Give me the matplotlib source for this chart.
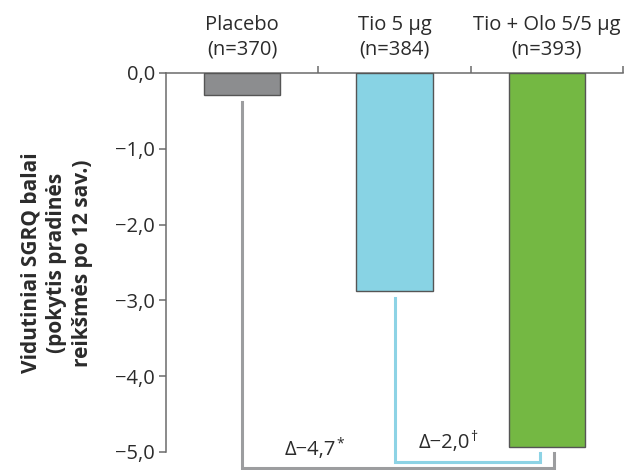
import matplotlib
matplotlib.use("Agg")
import matplotlib.pyplot as plt

plt.rcParams['font.family'] = ['Open Sans', 'DejaVu Sans']

categories = ["Placebo\n(n=370)", "Tio 5 μg\n(n=384)", "Tio + Olo 5/5 μg\n(n=393)"]
values = [-0.29, -2.88, -4.93]
colors = ["#8c8d8f", "#88d3e4", "#74b843"]
yticks = [0.0, -1.0, -2.0, -3.0, -4.0, -5.0]
ytick_labels = ["0,0", "\u22121,0", "\u22122,0", "\u22123,0", "\u22124,0", "\u22125,0"]
ylabel = "Vidutiniai SGRQ balai\n(pokytis pradinės\nreikšmės po 12 sav.)"
delta_placebo = ("\u0394\u22124,7", "*")
delta_tio = ("\u0394\u22122,0", "\u2020")

text_col = "#2b2b2b"
axis_col = "#6b6b6b"
gray_br = "#9c9d9f"
blue_br = "#8dd3e5"
FS = 14.5

fig = plt.figure(figsize=(6.38, 4.70), dpi=100)
ax = fig.add_axes([0.2602, 0.0383, 0.7163, 0.8064])

x = list(range(len(categories)))
ax.bar(x, values, width=0.5, color=colors, edgecolor="#555555", linewidth=1.0, zorder=3)

ax.set_xlim(-0.5, 2.5)
ax.set_ylim(-5.0, 0.0)

# spines: left axis and a top baseline at zero
for s in ["right", "bottom"]:
    ax.spines[s].set_visible(False)
for s in ["left", "top"]:
    ax.spines[s].set_color(axis_col)
    ax.spines[s].set_linewidth(1.1)

ax.set_yticks(yticks)
ax.set_yticklabels(ytick_labels, fontsize=FS, color=text_col)
ax.tick_params(axis="y", direction="out", length=5, width=1.1, color=axis_col, pad=3)

ax.xaxis.set_ticks_position("top")
ax.set_xticks([0.5, 1.5, 2.5])
ax.set_xticklabels([])
ax.tick_params(axis="x", direction="out", length=5, width=1.1, color=axis_col)

# category labels above the axes
for xi, lab in zip(x, categories):
    ax.text(xi, 1.0 + 13 / 379, lab, transform=ax.get_xaxis_transform(),
            ha="center", va="bottom", fontsize=FS, color=text_col, linespacing=1.35)

fig.text(0.089, 1 - 263 / 470, ylabel, rotation=90, ha="center", va="center",
         fontsize=15, fontweight="bold", color=text_col, linespacing=1.3)

# comparison brackets
ax.plot([0, 0, 2.05, 2.05], [values[0] - 0.09, -5.21, -5.21, values[2] - 0.08],
        color=gray_br, lw=2.2, clip_on=False, solid_joinstyle="miter", zorder=2)
ax.plot([1, 1, 1.955, 1.955], [values[1] - 0.09, -5.13, -5.13, values[2] - 0.08],
        color=blue_br, lw=2.2, clip_on=False, solid_joinstyle="miter", zorder=2)

for (main, sup), (tx, ty) in zip([delta_placebo, delta_tio], [(0.45, -4.97), (1.33, -4.88)]):
    t = ax.text(tx, ty, main, ha="center", va="center", fontsize=FS, color=text_col)
    ax.annotate(sup, xy=(1.0, 1.0), xycoords=t, ha="left", va="top",
                fontsize=10, color=text_col, xytext=(0, 2), textcoords="offset points")

fig.savefig("out.png", dpi=100)
